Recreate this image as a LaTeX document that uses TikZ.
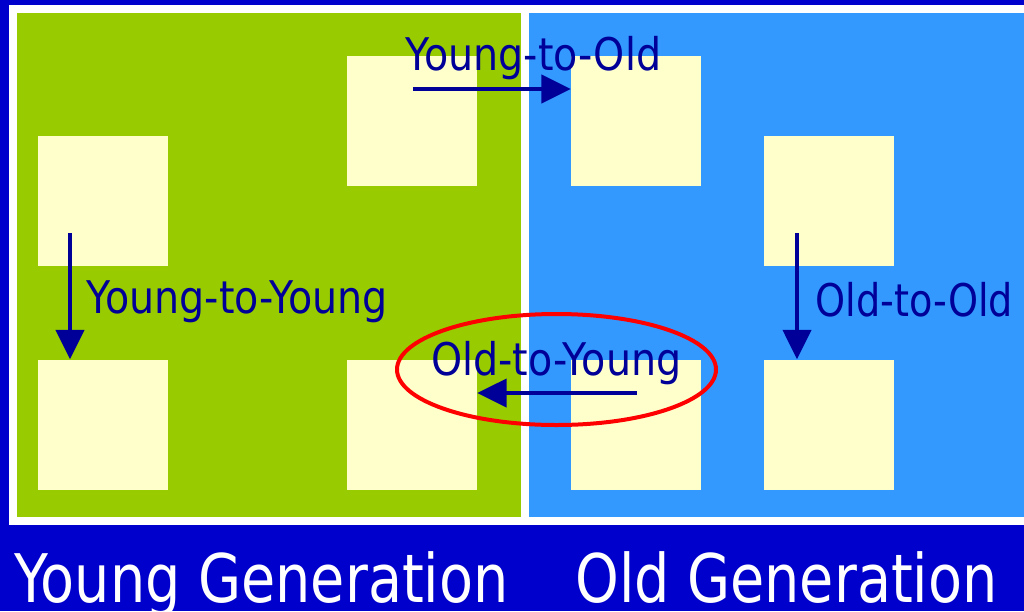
\documentclass[tikz,border=0pt]{standalone}
\usepackage{fontspec}
\setmainfont{DejaVu Sans}
\newfontfamily\labelfont[FakeStretch=0.88]{DejaVu Sans}
\newfontfamily\narrowlabelfont[FakeStretch=0.85]{DejaVu Sans}
\newfontfamily\genfont[FakeStretch=0.83]{DejaVu Sans}
\usetikzlibrary{arrows.meta,shapes.geometric}

\definecolor{frameblue}{HTML}{0000CC}
\definecolor{younggreen}{HTML}{99CC00}
\definecolor{oldblue}{HTML}{3399FF}
\definecolor{cellyellow}{HTML}{FFFFCC}
\definecolor{refnavy}{HTML}{000099}

\tikzset{
  cell/.style={fill=cellyellow, draw=none, inner sep=0pt,
    minimum width=97.5pt, minimum height=97.5pt},
  flow/.style={draw=refnavy, line width=3pt,
    -{Triangle[length=22pt,width=21pt]}},
  reflabel/.style={anchor=base west, inner sep=0pt, text=refnavy,
    font=\labelfont\fontsize{33.75}{40}\selectfont},
  genlabel/.style={anchor=base west, inner sep=0pt, text=white,
    font=\genfont\fontsize{50.25}{60}\selectfont},
  highlight/.style={ellipse, draw=red, line width=3pt,
    minimum width=239.25pt, minimum height=83.25pt, inner sep=0pt}
}

\begin{document}
\begin{tikzpicture}[x=0.75pt,y=-0.75pt]
  % background, frame and the two generation areas
  \fill[frameblue] (0,0) rectangle (1024,611);
  \useasboundingbox (0,0) rectangle (1024,611);
  \fill[white] (9,5) rectangle (1024,525);
  \fill[younggreen] (17,13) rectangle (521,517);
  \fill[oldblue] (529,13) rectangle (1024,517);

  % objects in the young generation
  \node[cell] (y1t) at (103,200.5) {};
  \node[cell] (y1b) at (103,424.5) {};
  \node[cell] (y2t) at (412,120.5) {};
  \node[cell] (y2b) at (412,424.5) {};
  % objects in the old generation
  \node[cell] (o1t) at (636,120.5) {};
  \node[cell] (o1b) at (636,424.5) {};
  \node[cell] (o2t) at (828.5,200.5) {};
  \node[cell] (o2b) at (828.5,424.5) {};

  % reference arrows
  \coordinate (yyS) at (70,233);
  \coordinate (ooS) at (797,233);
  \coordinate (yoS) at (413,89);
  \coordinate (oyS) at (637,393);
  \draw[flow] (yyS) -- (yyS |- y1b.north);
  \draw[flow] (ooS) -- (ooS |- o2b.north);
  \draw[flow] (yoS) -- (yoS -| o1t.west);
  \draw[flow] (oyS) -- (oyS -| y2b.east);

  % labels
  \node[reflabel] (lyo) at (405,70) {Young-to-Old};
  \node[reflabel] (lyy) at (86,313) {Young-to-Young};
  \node[reflabel, font=\narrowlabelfont\fontsize{33.75}{40}\selectfont]
    (loo) at (815,316) {Old-to-Old};
  \node[reflabel] (loy) at (431,375) {Old-to-Young};

  % emphasis on the old-to-young case
  \node[highlight] (mark) at (556.5,369.5) {};

  % generation captions
  \node[genlabel] (gy) at (14,602) {Young Generation};
  \node[genlabel] (go) at (575,602) {Old Generation};
\end{tikzpicture}
\end{document}
